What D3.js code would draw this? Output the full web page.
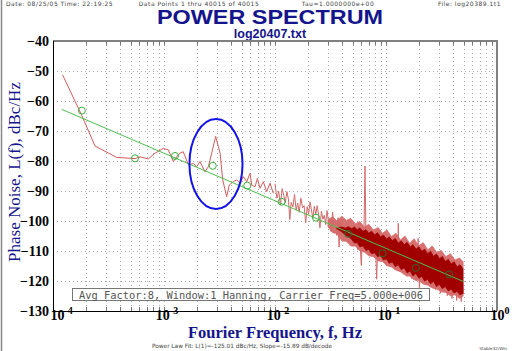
<!DOCTYPE html>
<html>
<head>
<meta charset="utf-8">
<script src="https://cdn.jsdelivr.net/npm/d3@7"></script>
<style>
  body { margin: 0; background: #fff; }
  svg { display: block; }
</style>
</head>
<body>
<svg id="chart" width="512" height="351"></svg>
<script>
// low frequency part of the spectrum
var lowFreq = [1.22e-4, 1.8e-4, 2.39e-4, 3.75e-4, 5.48e-4, 6.08e-4, 7.23e-4, 8.30e-4, 9.86e-4, 1.094e-3,
  1.214e-3, 1.30e-3, 1.39e-3, 1.49e-3, 1.66e-3, 1.84e-3, 1.97e-3, 2.11e-3, 2.34e-3, 2.51e-3, 2.69e-3,
  2.92e-3, 3.20e-3, 3.38e-3, 3.67e-3, 3.87e-3, 4.21e-3, 4.52e-3, 4.84e-3, 5.18e-3, 5.56e-3, 5.96e-3,
  6.17e-3, 6.61e-3, 6.94e-3, 7.33e-3, 7.85e-3, 8.41e-3, 9.02e-3, 9.66e-3];
var lowDb = [-51.3, -64.5, -75.0, -78.8, -79.2, -78.6, -79.3, -77.4, -75.8, -76.3,
  -80.2, -78.6, -77.4, -76.9, -81.3, -80.8, -81.9, -80.2, -83.6, -81.9, -77.4,
  -71.8, -77.4, -86.3, -91.9, -88.0, -86.9, -86.3, -87.4, -85.2, -86.9, -84.1,
  -88.0, -88.6, -85.8, -89.1, -86.9, -90.2, -87.4, -90.8];

// noisy upper part of the spectrum
var noiseFreq = [0.0100, 0.0104, 0.0108, 0.0112, 0.0116, 0.0120, 0.0124, 0.0128, 0.0132, 0.0136,
  0.0140, 0.0145, 0.0150, 0.0155, 0.0160, 0.0165, 0.0171, 0.0177, 0.0183, 0.0189, 0.0195,
  0.0201, 0.0207, 0.0213, 0.0219, 0.0226, 0.0233, 0.0240, 0.0247, 0.0254, 0.0262, 0.0270,
  0.0278, 0.0286, 0.0294, 0.0303, 0.0312, 0.0321, 0.0330, 0.0340, 0.0350, 0.0360, 0.0370,
  0.0378, 0.0386, 0.0395, 0.0405, 0.0415, 0.0426, 0.0437, 0.0448, 0.0459, 0.0470, 0.0482,
  0.0494, 0.0506, 0.0518, 0.0531, 0.0544, 0.0557, 0.0571, 0.0585, 0.0599, 0.0614, 0.0629,
  0.0647, 0.0660, 0.0676, 0.0693, 0.0710, 0.0727, 0.0745, 0.0763, 0.0782, 0.0801, 0.0824,
  0.0845, 0.0866, 0.0887, 0.0909, 0.0931, 0.0954, 0.0977, 0.1001, 0.1025, 0.1050, 0.1076,
  0.1102, 0.1129, 0.1157, 0.1185, 0.1214, 0.1244, 0.1274, 0.1290, 0.1305, 0.1337, 0.1370,
  0.1403, 0.1437, 0.1472, 0.1508, 0.1545, 0.1583, 0.1622, 0.1661, 0.1702, 0.1743, 0.1786,
  0.1829, 0.1874, 0.1950, 0.1968, 0.2000, 0.2050, 0.2100, 0.2151, 0.2204, 0.2258, 0.2313,
  0.2369, 0.2427, 0.2486, 0.2547, 0.2609, 0.2673, 0.2738, 0.2805, 0.2873, 0.2943, 0.3015,
  0.3089, 0.3164, 0.3241, 0.3320, 0.3401, 0.3484, 0.3569, 0.3656, 0.3745, 0.3837, 0.3930,
  0.4026, 0.4124, 0.4225, 0.4328, 0.4433, 0.4541, 0.4652, 0.4766, 0.4882, 0.5000];
var noiseDb = [-87.6, -92.4, -90.1, -94.6, -89.2, -91.5, -93.8, -90.2, -92.6, -99.5,
  -93.8, -95.3, -91.1, -96.4, -94.0, -97.1, -92.4, -95.6, -94.9, -100.6, -95.2,
  -97.8, -93.6, -96.3, -99.1, -95.1, -97.8, -94.9, -98.0, -102.3, -96.7, -99.4,
  -98.1, -101.2, -96.5, -100.0, -99.2, -103.6, -97.0, -101.4, -100.1, -104.8, -98.9,
  -108.7, -100.2, -104.9, -100.0, -106.2, -101.4, -105.5, -101.8, -107.3, -102.0, -106.4,
  -102.7, -108.3, -102.6, -107.9, -103.1, -109.6, -103.8, -108.2, -114.7, -104.5, -109.8,
  -81.7, -105.2, -110.5, -104.6, -111.3, -105.5, -110.1, -105.9, -112.0, -106.3, -119.4,
  -106.8, -112.9, -103.0, -111.4, -107.4, -113.5, -107.9, -114.2, -108.2, -113.0, -108.9,
  -115.1, -109.4, -114.3, -109.0, -116.2, -110.1, -115.4, -100.8, -111.0, -116.8, -110.7,
  -117.2, -111.5, -116.0, -111.8, -118.5, -112.1, -117.9, -112.6, -119.1, -113.0, -118.3,
  -113.4, -120.0, -105.8, -114.0, -122.3, -114.5, -119.6, -114.8, -120.4, -115.2, -121.1,
  -114.9, -120.8, -115.7, -122.0, -116.1, -121.6, -112.9, -122.9, -116.9, -121.8, -117.3,
  -124.1, -117.0, -122.5, -113.6, -123.6, -117.8, -124.9, -118.1, -122.7, -113.9, -125.8,
  -118.6, -123.9, -115.4, -126.5, -119.2, -125.1, -114.6, -126.9, -119.6, -124.3];

// lighter outer spread of the noise band
var outerFreq = [0.030, 0.033, 0.036, 0.040, 0.044, 0.048, 0.053, 0.058, 0.064, 0.070, 0.077, 0.085,
  0.093, 0.102, 0.112, 0.123, 0.135, 0.148, 0.163, 0.179, 0.197, 0.216, 0.238, 0.261, 0.287,
  0.315, 0.346, 0.380, 0.418, 0.459, 0.495];
var outerTop = [-99.6, -98.6, -99.9, -98.4, -99.8, -99.1, -100.9, -100.2, -102.0, -101.1, -103.0, -102.2,
  -104.1, -103.0, -105.2, -104.1, -106.3, -105.0, -107.4, -105.9, -108.3, -107.2, -109.6, -108.3, -110.5,
  -109.8, -111.9, -110.9, -113.0, -112.3, -113.6];
var outerBottom = [-101.9, -103.9, -104.2, -106.6, -106.8, -108.3, -108.4, -109.9, -110.4, -111.6, -111.9, -113.3,
  -113.5, -114.9, -115.3, -116.4, -116.9, -118.0, -118.4, -119.6, -119.8, -121.0, -121.4, -122.3, -122.7,
  -123.6, -123.8, -124.9, -124.6, -125.8, -125.1];

// dense dark core of the noise band
var coreFreq = [0.036, 0.040, 0.043, 0.046, 0.049, 0.052, 0.055, 0.058, 0.062, 0.066, 0.070, 0.074, 0.079,
  0.084, 0.089, 0.095, 0.101, 0.107, 0.114, 0.121, 0.129, 0.137, 0.146, 0.155, 0.165, 0.175,
  0.186, 0.198, 0.210, 0.223, 0.237, 0.252, 0.268, 0.285, 0.303, 0.322, 0.342, 0.364, 0.387,
  0.411, 0.437, 0.464, 0.493];
var coreTop = [-102.3, -102.0, -102.4, -101.9, -102.6, -102.0, -102.9, -102.3, -103.4, -102.9, -104.1, -103.4, -104.6,
  -103.9, -105.3, -104.7, -106.0, -105.3, -106.6, -105.8, -107.4, -106.6, -107.9, -107.1, -108.7, -107.9,
  -109.4, -108.6, -110.1, -109.4, -110.9, -110.1, -111.8, -111.0, -112.6, -111.8, -113.5, -112.8, -114.3,
  -113.6, -115.3, -114.6, -115.9];
var coreBottom = [-102.6, -103.6, -104.6, -105.2, -106.1, -107.3, -107.2, -108.6, -108.3, -109.8, -109.4, -110.9, -110.6,
  -111.9, -111.5, -113.0, -112.6, -114.1, -113.6, -115.2, -114.6, -116.2, -115.6, -117.3, -116.6, -118.3,
  -117.5, -119.1, -118.4, -120.0, -119.4, -120.9, -120.1, -121.8, -121.1, -122.6, -121.8, -123.3, -122.7,
  -124.0, -123.4, -124.6, -124.1];

// power law fit and the points it was made from
var fitFreq = [1.2e-4, 0.5];
var fitDb = [-62.8, -120.2];
var fitPtFreq = [1.82e-4, 5.48e-4, 1.256e-3, 2.75e-3, 5.62e-3, 1.148e-2, 2.34e-2, 4.57e-2, 9.33e-2, 0.186, 0.371];
var fitPtDb = [-63.2, -79.1, -78.3, -81.6, -88.2, -93.6, -98.9, -104.3, -110.8, -115.6, -117.8];

var yTicks = [-130, -120, -110, -100, -90, -80, -70, -60, -50, -40];
var xMajors = [1e-4, 1e-3, 1e-2, 1e-1, 1];
var xExps = ["-4", "-3", "-2", "-1", "0"];

var svg = d3.select("#chart");
var x = d3.scaleLog().domain([1e-4, 1]).range([53, 497]);
var y = d3.scaleLinear().domain([-130, -40]).range([311, 41]);

var navy = "#14148c";
var serif = "'Liberation Serif', 'Times New Roman', serif";

// frame on the left of the picture
svg.append("line").attr("x1", 1.5).attr("x2", 1.5).attr("y1", 0).attr("y2", 351)
  .style("stroke", "#888").style("stroke-width", 1.5);

// header
var head = svg.append("g").style("font-family", "'DejaVu Sans', sans-serif").style("font-size", "6px")
  .style("letter-spacing", "0.5px").style("fill", "#444");
head.append("text").attr("x", 6).attr("y", 5.5).text("Date: 08/25/05   Time: 22:19:25");
head.append("text").attr("x", 199).attr("y", 5.5).attr("text-anchor", "middle").text("Data Points 1 thru 40015 of 40015");
head.append("text").attr("x", 338).attr("y", 5.5).attr("text-anchor", "middle").text("Tau=1.0000000e+00");
head.append("text").attr("x", 501).attr("y", 5.5).attr("text-anchor", "end").text("File: log20389.1t1");

svg.append("text").attr("x", 270).attr("y", 23.5).attr("text-anchor", "middle")
  .attr("textLength", 226).attr("lengthAdjust", "spacingAndGlyphs")
  .style("font-family", "'Liberation Sans', Arial, sans-serif").style("font-weight", "bold")
  .style("font-size", "19.5px").style("fill", navy).text("POWER SPECTRUM");
svg.append("text").attr("x", 270).attr("y", 37.5).attr("text-anchor", "middle")
  .style("font-family", "'Liberation Sans', Arial, sans-serif").style("font-weight", "bold")
  .style("font-size", "12.5px").style("fill", navy).text("log20407.txt");

// grid
var grid = svg.append("g");
var vt = x.ticks().filter(function(d) { return d > 1e-4 && d < 1; });
grid.selectAll("line.vg")
  .data(vt)
  .join("line")
  .classed("vg", true)
  .attr("x1", function(d) { return Math.round(x(d)) + 0.5; })
  .attr("x2", function(d) { return Math.round(x(d)) + 0.5; })
  .attr("y1", 41).attr("y2", 311)
  .style("stroke", "#aaa").style("stroke-dasharray", "1,3");
grid.selectAll("line.hg")
  .data(yTicks.slice(1, -1))
  .join("line")
  .classed("hg", true)
  .attr("x1", 53).attr("x2", 497)
  .attr("y1", function(d) { return Math.round(y(d)) + 0.5; })
  .attr("y2", function(d) { return Math.round(y(d)) + 0.5; })
  .style("stroke", "#aaa").style("stroke-dasharray", "1,3");

// small inward ticks top and bottom
grid.selectAll("line.tt").data(vt).join("line").classed("tt", true)
  .attr("x1", function(d) { return Math.round(x(d)) + 0.5; })
  .attr("x2", function(d) { return Math.round(x(d)) + 0.5; })
  .attr("y1", 41).attr("y2", 45).style("stroke", "#777");
grid.selectAll("line.bt").data(vt).join("line").classed("bt", true)
  .attr("x1", function(d) { return Math.round(x(d)) + 0.5; })
  .attr("x2", function(d) { return Math.round(x(d)) + 0.5; })
  .attr("y1", 307).attr("y2", 311).style("stroke", "#777");

var plot = svg.append("g");

// outer spread
plot.append("path")
  .datum(d3.range(outerFreq.length))
  .attr("d", d3.area()
    .x(function(i) { return x(outerFreq[i]); })
    .y0(function(i) { return y(outerBottom[i]); })
    .y1(function(i) { return y(outerTop[i]); }))
  .style("fill", "#d87070").style("stroke", "#d87070").style("stroke-width", 0.8);

// noise line
plot.append("path")
  .datum(d3.zip(noiseFreq, noiseDb))
  .attr("d", d3.line().x(function(d) { return x(d[0]); }).y(function(d) { return y(d[1]); }))
  .style("fill", "none").style("stroke", "#d46a6a").style("stroke-width", 1);

// dark core
plot.append("path")
  .datum(d3.range(coreFreq.length))
  .attr("d", d3.area()
    .x(function(i) { return x(coreFreq[i]); })
    .y0(function(i) { return y(coreBottom[i]); })
    .y1(function(i) { return y(coreTop[i]); }))
  .style("fill", "#a00000").style("stroke", "#a00000").style("stroke-width", 0.8);

// low frequency line
plot.append("path")
  .datum(d3.zip(lowFreq, lowDb))
  .attr("d", d3.line().x(function(d) { return x(d[0]); }).y(function(d) { return y(d[1]); }))
  .style("fill", "none").style("stroke", "#d45c5c").style("stroke-width", 1);

// fit line
plot.append("line")
  .attr("x1", x(fitFreq[0])).attr("y1", y(fitDb[0]))
  .attr("x2", x(fitFreq[1])).attr("y2", y(fitDb[1]))
  .style("stroke", "#4cc04c").style("stroke-width", 1);

plot.selectAll("circle.fp")
  .data(d3.zip(fitPtFreq, fitPtDb))
  .join("circle")
  .classed("fp", true)
  .attr("cx", function(d) { return x(d[0]); })
  .attr("cy", function(d) { return y(d[1]); })
  .attr("r", 3.5)
  .style("fill", "none")
  .style("stroke", function(d) { return d[0] > 0.03 ? "#2f6a2f" : "#3cae3c"; });

// blue ellipse around the spur
var ecx = x(2.94e-3), ecy = y(-81);
plot.append("ellipse")
  .attr("cx", ecx).attr("cy", ecy)
  .attr("rx", x(5.1e-3) - ecx).attr("ry", y(-96) - ecy)
  .style("fill", "none").style("stroke", "#1414e6").style("stroke-width", 2);

// axes frame
svg.append("line").attr("x1", 53).attr("x2", 497).attr("y1", 41).attr("y2", 41).style("stroke", "#808080").style("stroke-width", 2);
svg.append("line").attr("x1", 497).attr("x2", 497).attr("y1", 40).attr("y2", 311).style("stroke", "#808080").style("stroke-width", 2);
svg.append("line").attr("x1", 53.5).attr("x2", 53.5).attr("y1", 41).attr("y2", 311).style("stroke", "#000");
svg.append("line").attr("x1", 53).attr("x2", 497).attr("y1", 311.5).attr("y2", 311.5).style("stroke", "#000");

// y axis labels
var yAxis = svg.append("g").attr("transform", "translate(53,0)")
  .call(d3.axisLeft(y).tickValues(yTicks).tickSize(0).tickPadding(4).tickFormat(d3.format("d")));
yAxis.select(".domain").remove();
yAxis.selectAll("text").style("font-family", serif).style("font-weight", "bold")
  .style("font-size", "14px").style("fill", "#000");

// x axis labels (10^n); the first one starts just right of the "-130" label
var xl = svg.append("g").style("font-family", serif).style("font-weight", "bold").style("fill", "#000");
xMajors.forEach(function(v, i) {
  var t = xl.append("text").attr("y", 320).style("font-size", "14px");
  if (i === 0) t.attr("x", 50.5).attr("text-anchor", "start");
  else t.attr("x", x(v) + 3).attr("text-anchor", "middle");
  t.append("tspan").text("10");
  t.append("tspan").attr("dy", -6).style("font-size", "10px").text(xExps[i]);
});

// legend box
svg.append("rect").attr("x", 72.5).attr("y", 288.5).attr("width", 357).attr("height", 12)
  .style("fill", "#fff").style("stroke", "#777");
svg.append("text").attr("x", 251).attr("y", 298.5).attr("text-anchor", "middle")
  .style("font-family", "'DejaVu Sans Mono', monospace").style("font-size", "10.4px").style("fill", "#555")
  .text("Avg Factor:8, Window:1 Hanning, Carrier Freq=5.000e+006");

// axis titles
svg.append("text").attr("x", 275).attr("y", 337.5).attr("text-anchor", "middle")
  .style("font-family", serif).style("font-weight", "bold")
  .style("font-size", "16.5px").style("fill", navy).text("Fourier Frequency, f, Hz");
svg.append("text").attr("transform", "translate(20,172) rotate(-90)").attr("text-anchor", "middle")
  .style("font-family", serif)
  .style("font-size", "17px").style("fill", navy).text("Phase Noise, L(f), dBc/Hz");

// footnotes
svg.append("text").attr("x", 152).attr("y", 347.5)
  .style("font-family", "'DejaVu Sans', sans-serif").style("font-size", "5.8px").style("fill", "#444")
  .text("Power Law Fit: L(1)=-125.01 dBc/Hz, Slope=-15.89 dB/decode");
svg.append("text").attr("x", 507).attr("y", 349.5).attr("text-anchor", "end")
  .style("font-family", "'DejaVu Sans', sans-serif").style("font-size", "4.2px").style("fill", "#444")
  .text("Stable32/Win");
</script>
</body>
</html>
